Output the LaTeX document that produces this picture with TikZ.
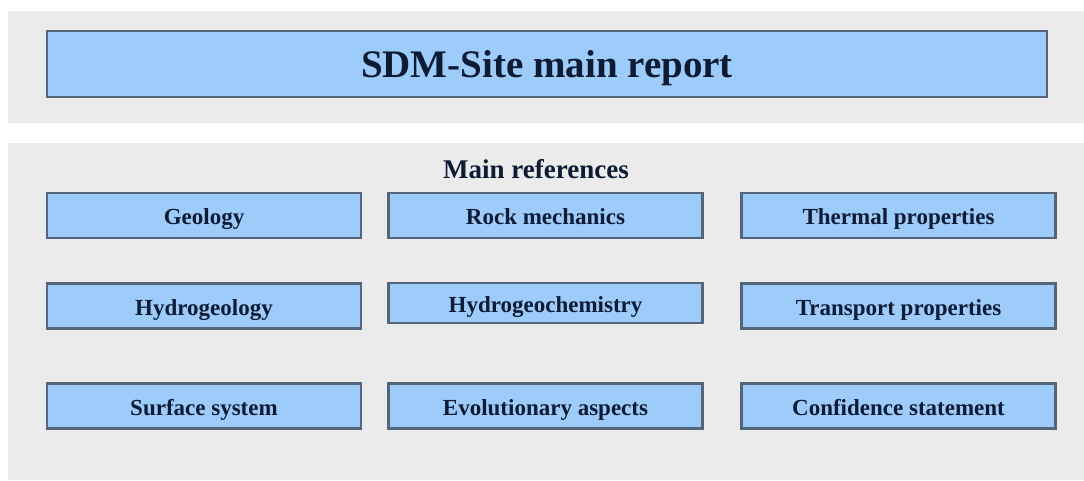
\documentclass[tikz,border=0pt]{standalone}
\usepackage{fontspec}
\setmainfont{Liberation Serif}
\definecolor{panel}{HTML}{EBEBEB}
\definecolor{boxfill}{HTML}{9DCBFA}
\definecolor{boxline}{HTML}{56667A}
\definecolor{txt}{HTML}{0D1B33}
\begin{document}
\begin{tikzpicture}[x=1pt,y=-1pt,
  panelbox/.style={fill=panel,draw=none},
  refbox/.style={draw=boxline,line width=2.2pt,fill=boxfill,inner sep=0pt,
    minimum width=314pt,minimum height=45pt,anchor=center,
    text height=18pt,text depth=0pt,
    font=\fontsize{23}{25}\selectfont\bfseries,text=txt},
  titlebox/.style={refbox,minimum width=1000pt,minimum height=66pt,
    text height=27pt,
    font=\fontsize{39}{42}\selectfont\bfseries}]
\useasboundingbox (0,0) rectangle (1084,480);
\fill[white] (0,0) rectangle (1084,480);
\fill[panelbox] (8,11) rectangle (1084,123);
\fill[panelbox] (8,143) rectangle (1084,480);
\node[titlebox] (title) at (547,64) {SDM-Site main report};
\node[font=\fontsize{27}{29}\selectfont\bfseries,text=txt,anchor=base,inner sep=0pt] (mainref) at (536,178) {Main references};
\node[refbox] (geol) at (204,215.5) {Geology};
\node[refbox] (rock) at (545.5,215.5) {Rock mechanics};
\node[refbox] (therm) at (898.5,215.5) {Thermal properties};
\node[refbox] (hydro) at (204,306) {Hydrogeology};
\node[refbox,minimum height=40pt] (hchem) at (545.5,303) {Hydrogeochemistry};
\node[refbox] (trans) at (898.5,306) {Transport properties};
\node[refbox] (surf) at (204,406) {Surface system};
\node[refbox] (evol) at (545.5,406) {Evolutionary aspects};
\node[refbox] (conf) at (898.5,406) {Confidence statement};
\end{tikzpicture}
\end{document}
